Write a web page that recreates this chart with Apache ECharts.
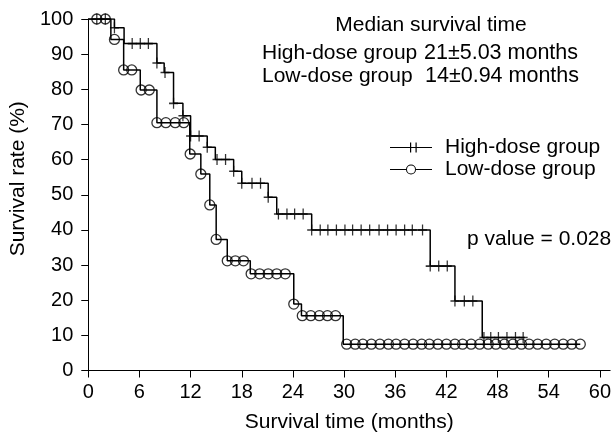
<!DOCTYPE html>
<html>
<head>
<meta charset="utf-8">
<script src="https://cdn.jsdelivr.net/npm/echarts@6/dist/echarts.min.js"></script>
<style>
html,body{margin:0;padding:0;background:#fff;}
#chart{width:614px;height:439px;}
</style>
</head>
<body>
<div id="chart"></div>
<script>
// ---- data ----
const xTicks = [0, 6, 12, 18, 24, 30, 36, 42, 48, 54, 60];
const yTicks = [0, 10, 20, 30, 40, 50, 60, 70, 80, 90, 100];

// High-dose group: step curve (time in months, survival %)
const highTimes = [0, 3.07, 4.2, 8.05, 8.9, 10.0, 11.1, 12.0, 13.95, 14.9, 17.05, 18.0, 21.1, 22.1, 26.2, 40.1, 43.0, 46.2, 51.2];
const highSurv  = [100, 97.5, 93, 87.5, 84.8, 76, 72.5, 66.7, 63.5, 60, 56.7, 53.3, 49.3, 44.5, 40, 29.7, 19.8, 9.4, 9.4];
const highMarks = [1.0, 2.0, 3.07, 5.15, 6.1, 7.05, 8.05, 9.0, 10.0, 11.1, 12.0, 13.0, 13.95, 15.1, 16.1, 17.05, 18.0, 19.2, 20.2,
  21.1, 22.3, 23.3, 24.2, 25.2, 26.2, 27.2, 28.1, 29.1, 30.1, 31.0, 32.0, 33.0, 34.1, 35.1, 36.1, 37.1, 38.0, 39.2,
  40.1, 41.1, 42.1, 43.0, 44.1, 45.1, 46.4, 47.2, 48.1, 49.1, 50.1, 51.0];

// Low-dose group
const lowTimes = [0, 2.65, 4.15, 6.1, 8.05, 11.9, 13.2, 14.25, 15.0, 16.3, 19.0, 24.1, 25.0, 29.9, 57.7];
const lowSurv  = [100, 94.2, 85.5, 79.8, 70.5, 61.6, 55.9, 47.1, 37.3, 31.2, 27.5, 18.9, 15.6, 7.5, 7.5];
const lowMarks = [1.0, 2.0, 3.07, 4.15, 5.1, 6.2, 7.15, 8.05, 9.1, 10.2, 11.2, 11.95, 13.2, 14.25, 15.0, 16.3, 17.25, 18.2,
  19.1, 20.1, 21.1, 22.1, 23.1, 24.1, 25.1, 26.1, 27.1, 28.05, 29.0,
  30.3, 31.3, 32.2, 33.2, 34.2, 35.2, 36.1, 37.1, 38.1, 39.1, 40.0, 41.0, 42.0, 43.0, 43.9, 44.9, 45.9, 46.9,
  47.8, 48.8, 49.8, 50.8, 51.7, 52.7, 53.7, 54.7, 55.7, 56.7, 57.7];

const seriesNames = ['High-dose group', 'Low-dose group'];
const medianTitle = 'Median survival time';
const medianRows = [['High-dose group', '21±5.03 months'], ['Low-dose group', '14±0.94 months']];
const pText = 'p value = 0.028';
const xName = 'Survival time (months)';
const yName = 'Survival rate (%)';

// ---- helpers ----
function stepAt(times, surv, t) {
  let v = surv[0];
  for (let i = 0; i < times.length; i++) { if (times[i] <= t + 1e-9) v = surv[i]; }
  return v;
}
const pairs = (ts, ss) => ts.map((t, i) => [t, ss[i]]);
const markPairs = (ms, ts, ss) => ms.map(t => [t, stepAt(ts, ss, t)]);

const FONT = '"Liberation Sans", Arial, Helvetica, sans-serif';
const crossSym = 'path://M5,0L5,10M0,5L10,5';
const legendCross = 'path://M0,4.5h42v1h-42z M20,0h1.2v10h-1.2z M25.5,0h1.2v10h-1.2z';
const legendCircle = 'path://M0,4.5h16v1h-16z M26,4.5h16v1h-16z M16,5a5,5 0 1,0 10,0a5,5 0 1,0 -10,0z M17,5a4,4 0 1,1 8,0a4,4 0 1,1 -8,0z';

const chart = echarts.init(document.getElementById('chart'), null, {renderer: 'canvas'});
chart.setOption({
  backgroundColor: '#fff',
  animation: false,
  grid: {left: 87, top: 19, right: 2, bottom: 68.5, containLabel: false},
  legend: {
    orient: 'vertical', left: 390, top: 137, padding: 0, itemWidth: 42, itemHeight: 10, itemGap: 1,
    selectedMode: false,
    textStyle: {fontSize: 21, fontFamily: FONT, color: '#000', padding: [0, 0, 0, 8]},
    itemStyle: {color: '#000', borderWidth: 0},
    data: [{name: seriesNames[0], icon: legendCross}, {name: seriesNames[1], icon: legendCircle}]
  },
  xAxis: {
    type: 'value', min: 0, max: 61.2, interval: 6,
    name: xName, nameLocation: 'middle', nameGap: 41,
    nameTextStyle: {fontSize: 21, fontFamily: FONT, color: '#000'},
    axisLine: {show: true, onZero: false, lineStyle: {color: '#000', width: 1}},
    axisTick: {show: true, length: 7, lineStyle: {color: '#000'}, customValues: xTicks},
    axisLabel: {fontSize: 20, fontFamily: FONT, color: '#000', margin: 12, customValues: xTicks},
    splitLine: {show: false}
  },
  yAxis: {
    type: 'value', min: 0, max: 100, interval: 10,
    name: yName, nameLocation: 'middle', nameGap: 58,
    nameTextStyle: {fontSize: 21, fontFamily: FONT, color: '#000', padding: [0, 0, 0, 32]},
    axisLine: {show: true, lineStyle: {color: '#000', width: 1}},
    axisTick: {show: true, length: 7, lineStyle: {color: '#000'}, customValues: yTicks},
    axisLabel: {fontSize: 20, fontFamily: FONT, color: '#000', margin: 15, customValues: yTicks},
    splitLine: {show: false}
  },
  series: [
    {name: seriesNames[0], type: 'line', step: 'end', data: pairs(highTimes, highSurv), symbol: 'none',
      lineStyle: {color: '#000', width: 1.5}, itemStyle: {color: '#000'}, z: 2},
    {name: seriesNames[1], type: 'line', step: 'end', data: pairs(lowTimes, lowSurv), symbol: 'none',
      lineStyle: {color: '#000', width: 1.5}, itemStyle: {color: '#000'}, z: 2},
    {name: seriesNames[0], type: 'scatter', data: markPairs(highMarks, highTimes, highSurv),
      symbol: crossSym, symbolSize: [9, 11],
      itemStyle: {color: 'rgba(0,0,0,0)', borderColor: '#000', borderWidth: 1.4}, z: 3},
    {name: seriesNames[1], type: 'scatter', data: markPairs(lowMarks, lowTimes, lowSurv),
      symbol: 'circle', symbolSize: 10,
      itemStyle: {color: 'rgba(0,0,0,0)', borderColor: '#000', borderWidth: 1.3}, z: 3}
  ],
  graphic: [
    {type: 'text', x: 431, y: 25, style: {text: medianTitle, fontSize: 21, fontFamily: FONT, fill: '#000', align: 'center', verticalAlign: 'middle'}},
    {type: 'text', x: 262, y: 53, style: {text: medianRows[0][0], fontSize: 21, fontFamily: FONT, fill: '#000', align: 'left', verticalAlign: 'middle'}},
    {type: 'text', x: 424, y: 53, style: {text: medianRows[0][1], fontSize: 21.5, fontFamily: FONT, fill: '#000', align: 'left', verticalAlign: 'middle'}},
    {type: 'text', x: 262, y: 76, style: {text: medianRows[1][0], fontSize: 21, fontFamily: FONT, fill: '#000', align: 'left', verticalAlign: 'middle'}},
    {type: 'text', x: 425, y: 76, style: {text: medianRows[1][1], fontSize: 21.5, fontFamily: FONT, fill: '#000', align: 'left', verticalAlign: 'middle'}},
    {type: 'text', x: 467, y: 239, style: {text: pText, fontSize: 21, fontFamily: FONT, fill: '#000', align: 'left', verticalAlign: 'middle'}}
  ]
});
</script>
</body>
</html>
